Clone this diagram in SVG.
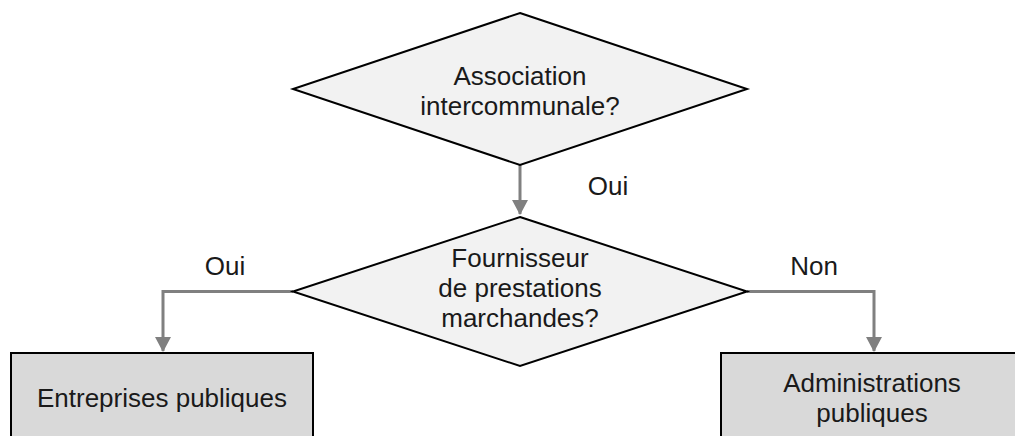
<svg xmlns="http://www.w3.org/2000/svg" width="1015" height="436" viewBox="0 0 1015 436">
<defs>
<style>
.dia{fill:#f2f2f2;stroke:#000;stroke-width:2}
.box{fill:#d9d9d9;stroke:#000;stroke-width:2}
.t{font-family:"Liberation Sans",Arial,sans-serif;font-size:26px;fill:#1a1a1a;text-anchor:middle}
.c{fill:none;stroke:#808080;stroke-width:3}
</style>
<marker id="arr" markerUnits="userSpaceOnUse" markerWidth="15" markerHeight="16" viewBox="0 0 15 16" refX="14" refY="8" orient="auto">
<path d="M0,0 L15,8 L0,16 Z" fill="#808080"/>
</marker>
</defs>
<rect width="1015" height="436" fill="#fff"/>
<g id="connectors">
<path class="c" d="M520,165 V214" marker-end="url(#arr)"/>
<path class="c" d="M293,291.5 H163 V351" marker-end="url(#arr)"/>
<path class="c" d="M747,291.5 H874 V351" marker-end="url(#arr)"/>
<text class="t" x="608" y="195">Oui</text>
<text class="t" x="225" y="275">Oui</text>
<text class="t" x="814" y="275">Non</text>
</g>
<g id="q1">
<polygon class="dia" points="520,13 747,89 520,165 293,89"/>
<text class="t" x="520" y="85">Association</text>
<text class="t" x="520" y="115">intercommunale?</text>
</g>
<g id="q2">
<polygon class="dia" points="520,217 747,291.5 520,366 293,291.5"/>
<text class="t" x="520" y="267">Fournisseur</text>
<text class="t" x="520" y="297">de prestations</text>
<text class="t" x="520" y="327">marchandes?</text>
</g>
<g id="entreprises">
<rect class="box" x="11" y="353" width="302" height="100"/>
<text class="t" x="162" y="407">Entreprises publiques</text>
</g>
<g id="administrations">
<rect class="box" x="721" y="353" width="304" height="100"/>
<text class="t" x="872" y="392">Administrations</text>
<text class="t" x="872" y="422">publiques</text>
</g>
</svg>
